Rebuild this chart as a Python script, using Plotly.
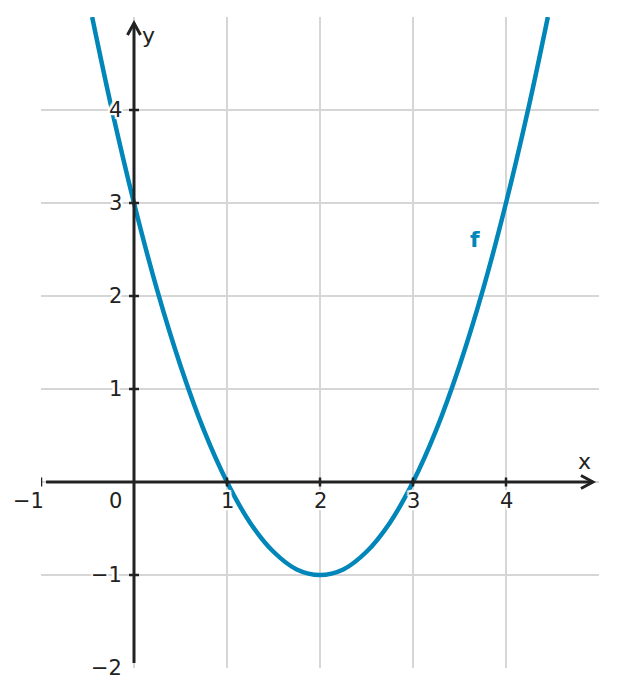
import plotly.graph_objects as go

# ---- data ----
x_vals = [-0.45, -0.25, 0, 0.25, 0.5, 0.75, 1, 1.25, 1.5, 1.75, 2,
          2.25, 2.5, 2.75, 3, 3.25, 3.5, 3.75, 4, 4.25, 4.45]
f_vals = [5.0, 4.06, 3.0, 2.06, 1.25, 0.56, 0.0, -0.44, -0.75, -0.94, -1.0,
          -0.94, -0.75, -0.44, 0.0, 0.56, 1.25, 2.06, 3.0, 4.06, 5.0]
x_grid = [-1, 0, 1, 2, 3, 4]
y_grid = [-2, -1, 0, 1, 2, 3, 4]
x_ticks = [-1, 1, 2, 3, 4]
x_tick_labels = ["−1", "0", "1", "2", "3", "4"]
x_label_pos = [-1, 0, 1, 2, 3, 4]
y_ticks = [-1, 1, 2, 3, 4]
y_tick_labels = ["−2", "−1", "1", "2", "3", "4"]
y_label_pos = [-2, -1, 1, 2, 3, 4]

X_RANGE = [-1, 5]
Y_RANGE = [-2, 5]
AX_COLOR = "#222222"
CURVE_COLOR = "#0086b8"
GRID_COLOR = "#d6d6d6"
FONT = "DejaVu Sans"
HALO = ("2px 0 1px white, -2px 0 1px white, 0 2px 1px white, 0 -2px 1px white, "
        "2px 2px 1px white, -2px -2px 1px white, 2px -2px 1px white, -2px 2px 1px white")

fig = go.Figure()
fig.add_trace(go.Scatter(x=x_vals, y=f_vals, mode="lines",
                         line=dict(color=CURVE_COLOR, width=4.5, shape="spline"),
                         hoverinfo="skip", showlegend=False))

shapes = []
# axis lines
shapes.append(dict(type="line", xref="x", yref="y", x0=-0.946, x1=4.93, y0=0, y1=0,
                   line=dict(color=AX_COLOR, width=3), layer="above"))
shapes.append(dict(type="line", xref="x", yref="y", x0=0, x1=0, y0=-1.946, y1=4.93,
                   line=dict(color=AX_COLOR, width=3), layer="above"))
# arrow heads
shapes.append(dict(type="path", xref="x", yref="y", xsizemode="pixel", ysizemode="pixel",
                   xanchor=4.935, yanchor=0, path="M -12 6.5 L 0 0 L -12 -6.5",
                   line=dict(color=AX_COLOR, width=3), layer="above"))
shapes.append(dict(type="path", xref="x", yref="y", xsizemode="pixel", ysizemode="pixel",
                   xanchor=0, yanchor=4.935, path="M -6.5 -12 L 0 0 L 6.5 -12",
                   line=dict(color=AX_COLOR, width=3), layer="above"))
# ticks
for t in x_ticks:
    shapes.append(dict(type="line", xref="x", yref="y", ysizemode="pixel", yanchor=0,
                       x0=t, x1=t, y0=-4.5, y1=4.5,
                       line=dict(color=AX_COLOR, width=2.5), layer="above"))
for t in y_ticks:
    shapes.append(dict(type="line", xref="x", yref="y", xsizemode="pixel", xanchor=0,
                       x0=-5, x1=5, y0=t, y1=t,
                       line=dict(color=AX_COLOR, width=2.5), layer="above"))

annotations = []
for v, lab in zip(x_label_pos, x_tick_labels):
    if v == -1:
        xa, xs = "right", 5
    elif v == 0:
        xa, xs = "right", -10
    else:
        xa, xs = "center", 0
    annotations.append(dict(x=v, y=0, xref="x", yref="y", text=lab, showarrow=False,
                            xanchor=xa, yanchor="middle", xshift=xs, yshift=-19,
                            font=dict(family=FONT, size=21, color=AX_COLOR, shadow=HALO)))
for v, lab in zip(y_label_pos, y_tick_labels):
    annotations.append(dict(x=0, y=v, xref="x", yref="y", text=lab, showarrow=False,
                            xanchor="right", yanchor="middle", xshift=-10,
                            font=dict(family=FONT, size=21, color=AX_COLOR, shadow=HALO)))
annotations.append(dict(x=4.84, y=0.22, xref="x", yref="y", text="x", showarrow=False,
                        xanchor="center", yanchor="middle",
                        font=dict(family=FONT, size=22, color=AX_COLOR)))
annotations.append(dict(x=0.16, y=4.8, xref="x", yref="y", text="y", showarrow=False,
                        xanchor="center", yanchor="middle",
                        font=dict(family=FONT, size=22, color=AX_COLOR)))
annotations.append(dict(x=3.667, y=2.61, xref="x", yref="y", text="<b>f</b>", showarrow=False,
                        xanchor="center", yanchor="middle",
                        font=dict(family=FONT, size=22, color=CURVE_COLOR)))

fig.update_layout(
    width=609, height=688,
    margin=dict(l=33, r=18, t=9, b=28),
    plot_bgcolor="white", paper_bgcolor="white",
    shapes=shapes, annotations=annotations,
    xaxis=dict(range=X_RANGE, tickvals=x_grid, showticklabels=False, showgrid=True,
               gridcolor=GRID_COLOR, gridwidth=1.5, zeroline=False, showline=False,
               fixedrange=True),
    yaxis=dict(range=Y_RANGE, tickvals=y_grid, showticklabels=False, showgrid=True,
               gridcolor=GRID_COLOR, gridwidth=1.5, zeroline=False, showline=False,
               fixedrange=True),
    font=dict(family=FONT),
)
fig.write_html("out.html")
